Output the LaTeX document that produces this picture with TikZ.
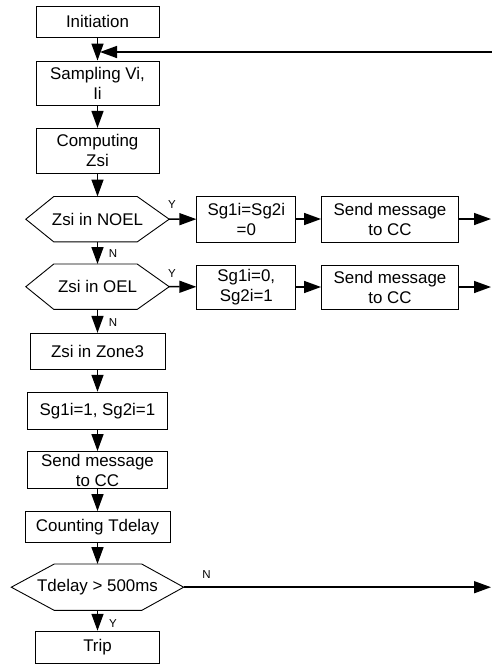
\documentclass[tikz,border=0pt]{standalone}
\usepackage{fontspec}
\setmainfont{Liberation Sans}
\usetikzlibrary{arrows.meta,calc}
\begin{document}
\begin{tikzpicture}[x=1pt,y=-1pt,
  box/.style={draw, line width=0.9pt, inner sep=0pt, align=center, font=\fontsize{16.9}{20}\selectfont},
  hexnode/.style={inner sep=0pt, align=center, font=\fontsize{16.9}{20}\selectfont},
  hexline/.style={line width=0.9pt},
  arr/.style={line width=1.5pt, -{Triangle[length=17pt,width=12pt]}},
  lbl/.style={font=\fontsize{11.5}{13}\selectfont, inner sep=0pt}]
\useasboundingbox (0,0) rectangle (492,664);

% main column
\node[box, minimum width=123pt, minimum height=31pt] (init) at (97.5,21.5) {Initiation};
\node[box, minimum width=123pt, minimum height=44pt] (samp) at (97.5,83) {Sampling Vi,\\Ii};
\node[box, minimum width=123pt, minimum height=45pt] (comp) at (97.5,150.8) {Computing\\Zsi};
\node[hexnode, minimum width=143pt, minimum height=45pt] (d1) at (97.5,219.2) {Zsi in NOEL};
\node[hexnode, minimum width=143pt, minimum height=45pt] (d2) at (97.5,286.7) {Zsi in OEL};
\node[box, minimum width=135pt, minimum height=36pt] (zone) at (97.5,351.3) {Zsi in Zone3};
\node[box, minimum width=140pt, minimum height=37pt] (sg3) at (97.5,410.7) {Sg1i=1, Sg2i=1};
\node[box, minimum width=140pt, minimum height=37pt] (snd3) at (97.5,470) {Send message\\to CC};
\node[box, minimum width=145pt, minimum height=31pt] (cnt) at (97.5,527) {Counting Tdelay};
\node[hexnode, minimum width=172pt, minimum height=46pt] (d3) at (97.5,587.2) {Tdelay > 500ms};
\node[box, minimum width=124pt, minimum height=32pt] (trip) at (97.5,647.2) {Trip};

% right branches
\node[box, minimum width=99pt, minimum height=46pt] (sg1) at (246.3,219) {Sg1i=Sg2i\\=0};
\node[box, minimum width=137pt, minimum height=46pt] (snd1) at (390,219) {Send message\\to CC};
\node[box, minimum width=99pt, minimum height=44pt] (sg2) at (246.3,287) {Sg1i=0,\\Sg2i=1};
\node[box, minimum width=137pt, minimum height=44pt] (snd2) at (390,287) {Send message\\to CC};

% hexagon outlines
\draw[hexline] (d1.west) -- ([xshift=28pt]d1.north west) -- ([xshift=-32pt]d1.north east) -- (d1.east) -- ([xshift=-32pt]d1.south east) -- ([xshift=28pt]d1.south west) -- cycle;
\draw[hexline] (d2.west) -- ([xshift=28pt]d2.north west) -- ([xshift=-32pt]d2.north east) -- (d2.east) -- ([xshift=-32pt]d2.south east) -- ([xshift=28pt]d2.south west) -- cycle;
\draw[hexline] (d3.west) -- ([xshift=43pt]d3.north west) -- ([xshift=-42pt]d3.north east) -- (d3.east) -- ([xshift=-42pt]d3.south east) -- ([xshift=43pt]d3.south west) -- cycle;

% free ends
\coordinate (fbR) at (492,52);
\coordinate (fbJ) at (100,52);
\coordinate (e1) at (491,219);
\coordinate (e2) at (491,287);
\coordinate (e3) at (491,587.2);

% connectors
\draw[arr] (init) -- (samp);
\draw[arr] (fbR) -- (fbJ);
\draw[arr] (samp) -- (comp);
\draw[arr] (comp) -- (d1.north);
\draw[arr] (d1.south) -- (d2.north);
\draw[arr] (d2.south) -- (zone);
\draw[arr] (zone) -- (sg3);
\draw[arr] (sg3) -- (snd3);
\draw[arr] (snd3) -- (cnt);
\draw[arr] (cnt) -- (d3.north);
\draw[arr] (d3.south) -- (trip);
\draw[arr] (d1.east) -- (sg1);
\draw[arr] (sg1) -- (snd1);
\draw[arr] (snd1) -- (e1);
\draw[arr] (d2.east) -- (sg2);
\draw[arr] (sg2) -- (snd2);
\draw[arr] (snd2) -- (e2);
\draw[arr] (d3.east) -- (e3);

% labels
\node[lbl] (y1) at (172,205) {Y};
\node[lbl] (n1) at (113,254) {N};
\node[lbl] (y2) at (172,273.3) {Y};
\node[lbl] (n2) at (113,322.7) {N};
\node[lbl] (n3) at (206.5,575) {N};
\node[lbl] (y3) at (113,623.3) {Y};
\end{tikzpicture}
\end{document}
